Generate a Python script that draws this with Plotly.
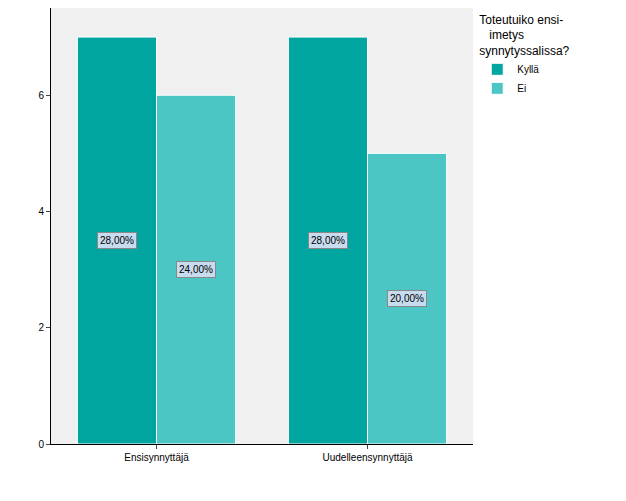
import plotly.graph_objects as go

categories = ["Ensisynnyttäjä", "Uudelleensynnyttäjä"]
kylla = [7, 7]
ei = [6, 5]
kylla_pct = ["28,00%", "28,00%"]
ei_pct = ["24,00%", "20,00%"]
tickvals = [0, 2, 4, 6]

fig = go.Figure()
fig.add_bar(x=categories, y=kylla, name="Kyllä", marker=dict(color="#00A59F", line=dict(color="white", width=1)))
fig.add_bar(x=categories, y=ei, name="Ei", marker=dict(color="#4CC5C5", line=dict(color="white", width=1)))

for i, c in enumerate(categories):
    for vals, pcts, shift in [(kylla, kylla_pct, -39.5), (ei, ei_pct, 39.5)]:
        fig.add_annotation(x=c, y=vals[i] / 2, text=pcts[i], showarrow=False, xshift=shift,
                           bgcolor="#C8DCF0", bordercolor="#888888", borderwidth=1, borderpad=2,
                           font=dict(size=10, color="black", family="Arial"))

fig.update_layout(
    width=626, height=501, barmode="group", bargap=0.25, bargroupgap=0,
    margin=dict(l=43, r=161, t=0, b=65),
    plot_bgcolor="#F0F0F0", paper_bgcolor="white",
    font=dict(family="Arial", size=10, color="black"),
    legend=dict(x=1.01, y=1, xanchor="left", yanchor="top", tracegroupgap=0, itemwidth=30,
                title=dict(text="Toteutuiko ensi-<br>   imetys<br>synnytyssalissa?", font=dict(size=12)),
                font=dict(size=10)),
    xaxis=dict(showline=True, linecolor="black", ticks="outside", ticklen=4, mirror=False),
    yaxis=dict(range=[0, 7.5], tickvals=tickvals, showgrid=False, showline=True, linecolor="black",
               ticks="outside", ticklen=4, zeroline=False),
)
fig.write_html("out.html")
